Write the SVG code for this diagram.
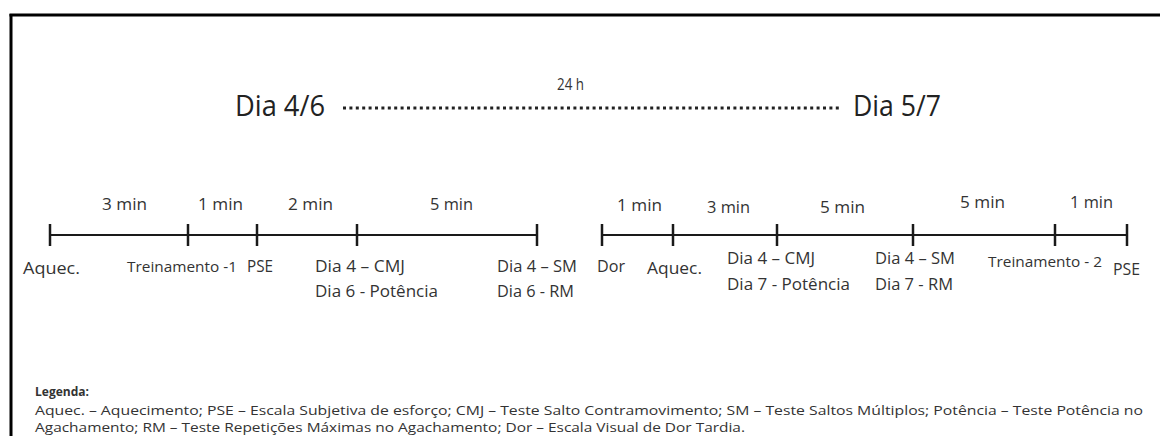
<svg xmlns="http://www.w3.org/2000/svg" width="1160" height="436" viewBox="0 0 1160 436">
<style>
.t{font-family:"Open Sans","Liberation Sans",sans-serif;fill:#333;}
.s{font-size:15.5px;}
.xs{font-size:14px;}
.big{font-size:30px;fill:#222;}
.lg{font-size:13px;}
.ln{stroke:#1a1a1a;stroke-width:2;fill:none;}
.tk{stroke:#1a1a1a;stroke-width:2.5;}
</style>
<rect width="1160" height="436" fill="#fff"/>
<g id="frame">
<line x1="9.5" y1="15" x2="1160" y2="15" stroke="#000" stroke-width="3"/>
<line x1="11" y1="14" x2="11" y2="436" stroke="#000" stroke-width="3"/>
</g>
<g id="header">
<text class="t big" x="235" y="116" textLength="90" lengthAdjust="spacingAndGlyphs">Dia 4/6</text>
<text class="t s" x="557" y="90" textLength="27" lengthAdjust="spacingAndGlyphs">24 h</text>
<text class="t big" x="853" y="116" textLength="88" lengthAdjust="spacingAndGlyphs">Dia 5/7</text>
</g>
<g id="connectors">
<line x1="343" y1="108" x2="840" y2="108" stroke="#222" stroke-width="3" stroke-dasharray="3 3.4"/>
<line class="ln" x1="50" y1="235" x2="537" y2="235"/>
<line class="ln" x1="602" y1="235" x2="1127" y2="235"/>
</g>
<g id="ticks">
<line class="tk" x1="50" y1="224" x2="50" y2="246"/>
<line class="tk" x1="188" y1="224" x2="188" y2="246"/>
<line class="tk" x1="257" y1="224" x2="257" y2="246"/>
<line class="tk" x1="357" y1="224" x2="357" y2="246"/>
<line class="tk" x1="537" y1="224" x2="537" y2="246"/>
<line class="tk" x1="602" y1="224" x2="602" y2="246"/>
<line class="tk" x1="673" y1="224" x2="673" y2="246"/>
<line class="tk" x1="777" y1="224" x2="777" y2="246"/>
<line class="tk" x1="913" y1="224" x2="913" y2="246"/>
<line class="tk" x1="1055" y1="224" x2="1055" y2="246"/>
<line class="tk" x1="1127" y1="224" x2="1127" y2="246"/>
</g>
<g id="durations">
<text class="t s" x="102" y="210" textLength="45" lengthAdjust="spacingAndGlyphs">3 min</text>
<text class="t s" x="198" y="210" textLength="45" lengthAdjust="spacingAndGlyphs">1 min</text>
<text class="t s" x="288" y="210" textLength="45" lengthAdjust="spacingAndGlyphs">2 min</text>
<text class="t s" x="430" y="210" textLength="43" lengthAdjust="spacingAndGlyphs">5 min</text>
<text class="t s" x="617" y="211" textLength="45" lengthAdjust="spacingAndGlyphs">1 min</text>
<text class="t s" x="707" y="213" textLength="43" lengthAdjust="spacingAndGlyphs">3 min</text>
<text class="t s" x="820" y="213" textLength="45" lengthAdjust="spacingAndGlyphs">5 min</text>
<text class="t s" x="960" y="208" textLength="45" lengthAdjust="spacingAndGlyphs">5 min</text>
<text class="t s" x="1070" y="208" textLength="43" lengthAdjust="spacingAndGlyphs">1 min</text>
</g>
<g id="n-aquec1"><text class="t s" x="23" y="274" textLength="57" lengthAdjust="spacingAndGlyphs">Aquec.</text></g>
<g id="n-trein1"><text class="t xs" x="127" y="272" textLength="110" lengthAdjust="spacingAndGlyphs">Treinamento -1</text></g>
<g id="n-pse1"><text class="t s" x="247" y="272" textLength="26" lengthAdjust="spacingAndGlyphs">PSE</text></g>
<g id="n-cmj1">
<text class="t s" x="315" y="272" textLength="90" lengthAdjust="spacingAndGlyphs">Dia 4 – CMJ</text>
<text class="t s" x="315" y="297" textLength="123" lengthAdjust="spacingAndGlyphs">Dia 6 - Potência</text>
</g>
<g id="n-sm1">
<text class="t s" x="497" y="272" textLength="80" lengthAdjust="spacingAndGlyphs">Dia 4 – SM</text>
<text class="t s" x="497" y="297" textLength="77" lengthAdjust="spacingAndGlyphs">Dia 6 - RM</text>
</g>
<g id="n-dor"><text class="t s" x="597" y="272" textLength="28" lengthAdjust="spacingAndGlyphs">Dor</text></g>
<g id="n-aquec2"><text class="t s" x="647" y="274" textLength="55" lengthAdjust="spacingAndGlyphs">Aquec.</text></g>
<g id="n-cmj2">
<text class="t s" x="727" y="264" textLength="88" lengthAdjust="spacingAndGlyphs">Dia 4 – CMJ</text>
<text class="t s" x="727" y="290" textLength="123" lengthAdjust="spacingAndGlyphs">Dia 7 - Potência</text>
</g>
<g id="n-sm2">
<text class="t s" x="875" y="264" textLength="80" lengthAdjust="spacingAndGlyphs">Dia 4 – SM</text>
<text class="t s" x="875" y="290" textLength="78" lengthAdjust="spacingAndGlyphs">Dia 7 - RM</text>
</g>
<g id="n-trein2"><text class="t xs" x="988" y="267" textLength="114" lengthAdjust="spacingAndGlyphs">Treinamento - 2</text></g>
<g id="n-pse2"><text class="t s" x="1113" y="275" textLength="27" lengthAdjust="spacingAndGlyphs">PSE</text></g>
<g id="legend">
<text class="t lg" x="35" y="396" font-weight="bold" fill="#222" textLength="54" lengthAdjust="spacingAndGlyphs">Legenda:</text>
<text class="t lg" x="35" y="415" textLength="1108" lengthAdjust="spacingAndGlyphs">Aquec. – Aquecimento; PSE – Escala Subjetiva de esforço; CMJ – Teste Salto Contramovimento; SM – Teste Saltos Múltiplos; Potência – Teste Potência no</text>
<text class="t lg" x="35" y="432" textLength="710" lengthAdjust="spacingAndGlyphs">Agachamento; RM – Teste Repetições Máximas no Agachamento; Dor – Escala Visual de Dor Tardia.</text>
</g>
</svg>
